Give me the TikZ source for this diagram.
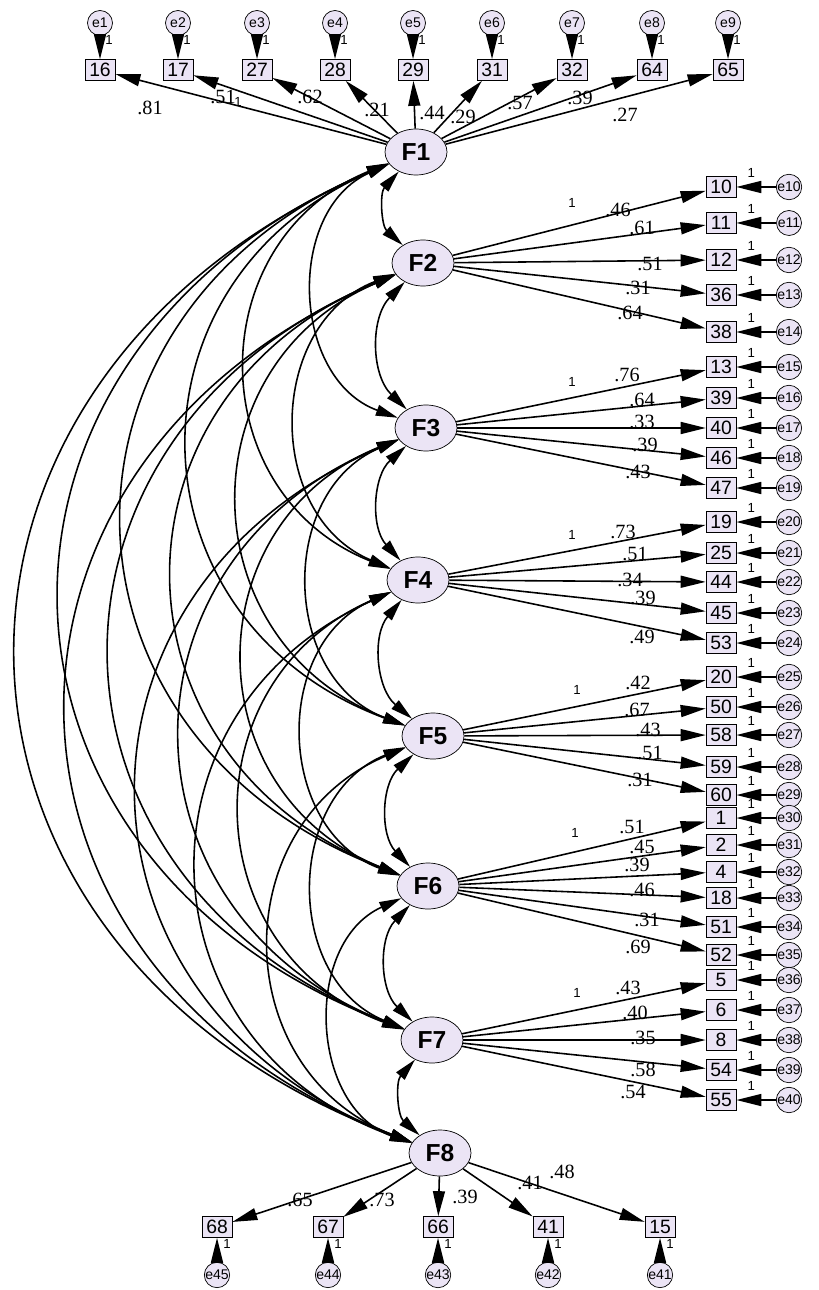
\documentclass[tikz,border=0pt]{standalone}
\usepackage{fontspec}
\setmainfont{Liberation Serif}
\setsansfont{Liberation Sans}
\usetikzlibrary{shapes.geometric, arrows.meta}
\definecolor{semfill}{RGB}{235,228,245}

\begin{document}
\begin{tikzpicture}[x=0.02cm, y=0.02cm]

\tikzset{
  factor/.style={ellipse, draw, fill=semfill, minimum width=1.24cm, minimum height=0.92cm, inner sep=0pt, font=\sffamily\bfseries\fontsize{14}{14}\selectfont},
  obs/.style={rectangle, draw, fill=semfill, minimum width=0.6cm, minimum height=0.42cm, inner sep=0pt, font=\sffamily\fontsize{11}{11}\selectfont},
  err/.style={circle, draw, fill=semfill, minimum size=0.5cm, inner sep=0pt, font=\sffamily\footnotesize},
  load/.style={-{Triangle[length=5mm,width=2.4mm]}, line width=0.9pt},
  cov/.style={{Triangle[length=4.4mm,width=2.2mm]}-{Triangle[length=4.4mm,width=2.2mm]}, line width=0.9pt},
  est/.style={inner sep=0pt, font=\fontsize{11.5}{11.5}\selectfont},
  fix/.style={inner sep=0pt, font=\sffamily\fontsize{7.5}{7.5}\selectfont}
}

\useasboundingbox (0,0) rectangle (818,-1290);

% factors
\node (F1) [factor] at (416,-152) {F1};
\node (F2) [factor] at (423,-263) {F2};
\node (F3) [factor] at (426,-428) {F3};
\node (F4) [factor] at (418,-580) {F4};
\node (F5) [factor] at (433,-736) {F5};
\node (F6) [factor] at (428,-886) {F6};
\node (F7) [factor] at (432,-1040) {F7};
\node (F8) [factor] at (440,-1153) {F8};

% covariances
\def\fy{{152,263,428,580,736,886,1040,1153}}
\foreach \i [evaluate=\i as \ii using int(\i+1)] in {1,...,7} {
  \foreach \j in {\ii,...,8} {
    \pgfmathsetmacro\ll{\fy[\j-1]-\fy[\i-1]}
    \pgfmathsetmacro\bnd{(\j-\i==1) ? 45 : 68}
    \pgfmathsetmacro\lsn{(\j-\i==1) ? 1.0 : (0.42*\ll-30)/(0.2936*\ll*sin(68))}
    \draw[cov] (F\i) to[bend right=\bnd, looseness=\lsn] (F\j);
  }
}

% F1 items (top)
\foreach \bx/\xx/\er/\ld/\lx/\ly in {16/100/1/.81/150/108, 17/178/2/.51/223/97,
    27/257/3/.62/310/97, 28/335/4/.21/377/110, 29/413/5/.44/432/113,
    31/492/6/.29/463/117, 32/572/7/.57/520/103, 64/652/8/.39/580/98,
    65/728/9/.27/625/115} {
  \node (i\bx) [obs] at (\xx,-70) {\bx};
  \node (e\er) [err] at (\xx,-23) {e\er};
  \draw[load] (e\er) -- (i\bx);
  \draw[load] (F1) -- (i\bx);
  \node (l\bx) [est] at (\lx,-\ly) {\ld};
  \node (o\er) [fix] at ([xshift=0.18cm,yshift=0.38cm]i\bx.north) {1};
}

% F2 to F7 items (right)
\foreach \fc/\bx/\yy/\er/\ld/\lx/\ly in {2/10/187/10/.46/618/210, 2/11/223/11/.61/642/228,
    2/12/260/12/.51/650/264, 2/36/295/13/.31/638/288, 2/38/332/14/.64/630/313,
    3/13/367/15/.76/627/375, 3/39/398/16/.64/642/400, 3/40/428/17/.33/642/422,
    3/46/458/18/.39/645/445, 3/47/488/19/.43/638/472,
    4/19/522/20/.73/623/532, 4/25/553/21/.51/635/554, 4/44/582/22/.34/630/580,
    4/45/613/23/.39/643/598, 4/53/643/24/.49/642/637,
    5/20/677/25/.42/638/683, 5/50/707/26/.67/637/710, 5/58/735/27/.43/648/730,
    5/59/767/28/.51/650/753, 5/60/795/29/.31/640/780,
    6/1/818/30/.51/632/827, 6/2/845/31/.45/642/847, 6/4/872/32/.39/637/865,
    6/18/898/33/.46/642/890, 6/51/927/34/.31/647/920, 6/52/955/35/.69/638/947,
    7/5/980/36/.43/628/988, 7/6/1010/37/.40/635/1013, 7/8/1040/38/.35/643/1038,
    7/54/1070/39/.58/643/1070, 7/55/1100/40/.54/633/1092} {
  \node (i\bx) [obs] at (721,-\yy) {\bx};
  \node (e\er) [err] at (789,-\yy) {e\er};
  \draw[load] (e\er) -- (i\bx);
  \draw[load] (F\fc) -- (i\bx);
  \node (l\bx) [est] at (\lx,-\ly) {\ld};
  \node (o\er) [fix] at ([xshift=0.3cm,yshift=0.06cm]i\bx.north east) {1};
}

% F8 items (bottom)
\foreach \bx/\xx/\er/\ld/\lx/\ly in {68/217/45/.65/300/1200, 67/328/44/.73/382/1200,
    66/438/43/.39/465/1197, 41/548/42/.41/530/1183, 15/660/41/.48/562/1172} {
  \node (i\bx) [obs] at (\xx,-1227) {\bx};
  \node (e\er) [err] at (\xx,-1275) {e\er};
  \draw[load] (e\er) -- (i\bx);
  \draw[load] (F8) -- (i\bx);
  \node (l\bx) [est] at (\lx,-\ly) {\ld};
  \node (o\er) [fix] at ([xshift=0.2cm,yshift=-0.12cm]i\bx.south) {1};
}

% fixed loadings
\node (k1) [fix] at (238,-102) {1};
\node (k2) [fix] at (572,-203) {1};
\node (k3) [fix] at (572,-382) {1};
\node (k4) [fix] at (572,-535) {1};
\node (k5) [fix] at (577,-690) {1};
\node (k6) [fix] at (575,-833) {1};
\node (k7) [fix] at (577,-993) {1};

\end{tikzpicture}
\end{document}
